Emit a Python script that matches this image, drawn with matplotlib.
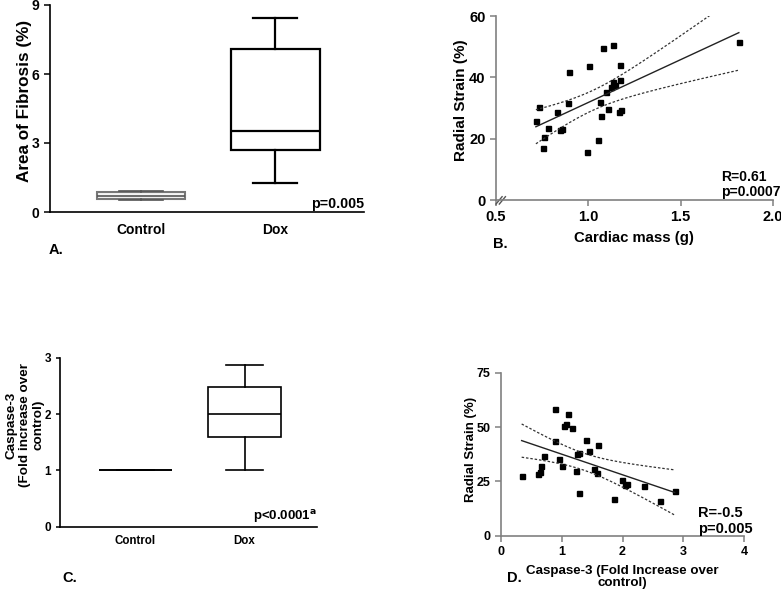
import numpy as np
import matplotlib
matplotlib.use('Agg')
import matplotlib.pyplot as plt

plt.rcParams['font.family'] = ['Liberation Sans', 'DejaVu Sans']
plt.rcParams['font.weight'] = 'bold'
plt.rcParams['axes.labelweight'] = 'bold'

# ---- data ----
groups = ['Control', 'Dox']
# box summaries: whislo, q1, median, q3, whishi
fibrosis_control = [0.52, 0.58, 0.68, 0.86, 0.90]
fibrosis_dox = [1.26, 2.70, 3.51, 7.09, 8.45]
casp_control = [1.0, 1.0, 1.0, 1.0, 1.0]
casp_dox = [1.01, 1.60, 2.00, 2.48, 2.87]

mass_g = [0.716, 0.734, 0.752, 0.760, 0.780, 0.832, 0.844, 0.857, 0.888, 0.895,
          0.992, 1.006, 1.051, 1.064, 1.071, 1.077, 1.096, 1.105, 1.122, 1.131,
          1.132, 1.143, 1.170, 1.170, 1.167, 1.177, 1.815]
strain_b = [25.8, 30.4, 17.0, 20.6, 23.6, 28.7, 22.7, 23.1, 31.7, 41.7,
            15.6, 43.6, 19.6, 31.8, 27.5, 49.7, 35.2, 29.6, 36.9, 50.7,
            38.4, 37.6, 44.0, 39.1, 28.6, 29.4, 51.6]

casp3 = [0.34, 0.889, 0.889, 0.708, 0.664, 0.636, 0.604, 0.955, 1.004, 1.037,
         1.07, 1.103, 1.174, 1.235, 1.251, 1.289, 1.289, 1.394, 1.449, 1.536,
         1.58, 1.602, 1.855, 1.992, 2.036, 2.069, 2.348, 2.612, 2.859]
strain_d = [27.5, 58.3, 43.6, 36.8, 31.9, 29.3, 28.5, 35.1, 31.9, 50.6,
            51.5, 55.8, 49.5, 29.6, 37.6, 38.2, 19.6, 44.0, 39.1, 30.5,
            28.7, 41.7, 17.0, 25.8, 23.3, 23.8, 22.9, 15.8, 20.6]

W, H = 781, 591
fig = plt.figure(figsize=(W / 100, H / 100), dpi=100)


def px_axes(l, r, t, b):
    return fig.add_axes([l / W, 1 - b / H, (r - l) / W, (b - t) / H])


def stats(v, label):
    return dict(whislo=v[0], q1=v[1], med=v[2], q3=v[3], whishi=v[4], label=label, fliers=[])


def style(ax, color):
    ax.spines['top'].set_visible(False)
    ax.spines['right'].set_visible(False)
    for s in ('left', 'bottom'):
        ax.spines[s].set_color(color)
        ax.spines[s].set_linewidth(1.2)
    ax.tick_params(direction='out', length=4, width=1.1, color=color)


def fit_band(ax, x, y, tval):
    x = np.asarray(x); y = np.asarray(y)
    n = len(x)
    b, a = np.polyfit(x, y, 1)
    xs = np.linspace(x.min(), x.max(), 200)
    res = y - (a + b * x)
    s = np.sqrt((res ** 2).sum() / (n - 2))
    se = s * np.sqrt(1 / n + (xs - x.mean()) ** 2 / ((x - x.mean()) ** 2).sum())
    fit = a + b * xs
    ax.plot(xs, fit, color='#222222', lw=1.0)
    ax.plot(xs, fit + tval * se, color='#333333', lw=0.9, ls=(0, (2, 1.5)))
    ax.plot(xs, fit - tval * se, color='#333333', lw=0.9, ls=(0, (2, 1.5)))


# ---- A: area of fibrosis ----
axA = px_axes(50, 364, 5, 212)
axA.bxp([stats(fibrosis_control, 'Control')], positions=[1], widths=0.664, capwidths=0.33,
        patch_artist=True, showfliers=False,
        boxprops=dict(facecolor='#f4f4f4', edgecolor='#777777', lw=1.5),
        medianprops=dict(color='#555555', lw=1.2),
        whiskerprops=dict(color='#555555', lw=1.2), capprops=dict(color='#555555', lw=1.2))
axA.bxp([stats(fibrosis_dox, 'Dox')], positions=[2], widths=0.664, capwidths=0.33,
        patch_artist=True, showfliers=False,
        boxprops=dict(facecolor='white', edgecolor='black', lw=1.6),
        medianprops=dict(color='black', lw=1.6),
        whiskerprops=dict(color='black', lw=1.6), capprops=dict(color='black', lw=1.6))
axA.set_xlim(0.321, 2.664)
axA.set_ylim(0, 9)
axA.set_yticks([0, 3, 6, 9])
style(axA, 'black')
axA.tick_params(axis='x', length=0, pad=8, labelsize=10)
axA.tick_params(axis='y', labelsize=10)
axA.set_xticks([1, 2])
axA.set_xticklabels(groups)
axA.set_ylabel('Area of Fibrosis (%)', fontsize=12.3)
axA.yaxis.set_label_coords(-0.058, 0.536)
axA.text(1.0, 0.005, 'p=0.005', transform=axA.transAxes, ha='right', va='bottom', fontsize=10.3)

# ---- B: radial strain vs cardiac mass ----
axB = px_axes(496, 773, 16, 200)
axB.plot(mass_g, strain_b, 's', color='black', ms=3.6)
fit_band(axB, mass_g, strain_b, 2.060)
axB.set_xlim(0.5, 2.0)
axB.set_ylim(0, 60)
axB.set_xticks([0.5, 1.0, 1.5, 2.0])
axB.set_xticklabels(['0.5', '1.0', '1.5', '2.0'])
axB.set_yticks([0, 20, 40, 60])
style(axB, '#808080')
axB.tick_params(labelsize=10.5)
axB.set_ylabel('Radial Strain (%)', fontsize=11)
axB.yaxis.set_label_coords(-0.101, 0.54)
axB.set_xlabel('Cardiac mass (g)', fontsize=10.7)
axB.xaxis.set_label_coords(0.497, -0.168)
for dx in (0.0, 0.012):
    axB.plot([dx, dx + 0.022], [-0.022, 0.018], transform=axB.transAxes, color='#555555',
             lw=1.0, clip_on=False)
axB.text(0.812, 0.127, 'R=0.61', transform=axB.transAxes, ha='left', va='center', fontsize=10)
axB.text(0.812, 0.043, 'p=0.0007', transform=axB.transAxes, ha='left', va='center', fontsize=10)

# ---- C: caspase-3 ----
axC = px_axes(60, 317, 357.7, 526.7)
axC.bxp([stats(casp_control, 'Control'), stats(casp_dox, 'Dox')], positions=[1, 2],
        widths=0.67, capwidths=0.335, patch_artist=True, showfliers=False,
        boxprops=dict(facecolor='white', edgecolor='black', lw=1.2),
        medianprops=dict(color='black', lw=1.2),
        whiskerprops=dict(color='black', lw=1.2), capprops=dict(color='black', lw=1.2))
axC.set_xlim(0.307, 2.665)
axC.set_ylim(0, 3)
axC.set_yticks([0, 1, 2, 3])
style(axC, 'black')
axC.tick_params(axis='x', length=0, pad=6, labelsize=8.3)
axC.tick_params(axis='y', labelsize=8.5, length=3)
axC.set_xticks([1, 2])
axC.set_xticklabels(groups)
axC.set_ylabel('Caspase-3\n(Fold increase over\ncontrol)', fontsize=9.7, linespacing=1.15)
axC.yaxis.set_label_coords(-0.062, 0.60)
axC.text(1.0, 0.01, r'p<0.0001$^{\mathbf{a}}$', transform=axC.transAxes, ha='right',
         va='bottom', fontsize=9.5)

# ---- D: radial strain vs caspase-3 ----
axD = px_axes(501, 744, 372.7, 535.7)
axD.plot(casp3, strain_d, 's', color='black', ms=3.6)
fit_band(axD, casp3, strain_d, 2.052)
axD.set_xlim(0, 4)
axD.set_ylim(0, 75)
axD.set_xticks([0, 1, 2, 3, 4])
axD.set_yticks([0, 25, 50, 75])
style(axD, '#808080')
axD.tick_params(labelsize=9)
axD.set_ylabel('Radial Strain (%)', fontsize=9.5)
axD.yaxis.set_label_coords(-0.1, 0.53)
axD.set_xlabel('Caspase-3 (Fold Increase over\ncontrol)', fontsize=9.6, linespacing=1.05)
axD.xaxis.set_label_coords(0.5, -0.253)
axD.xaxis.label.set_va('center')
axD.text(0.811, 0.139, 'R=-0.5', transform=axD.transAxes, ha='left', va='center', fontsize=10.5)
axD.text(0.811, 0.039, 'p=0.005', transform=axD.transAxes, ha='left', va='center', fontsize=10.5)

# ---- panel letters ----
for lab, x, y in [('A.', 56, 250), ('B.', 500, 244), ('C.', 70, 578), ('D.', 514, 578)]:
    fig.text(x / W, 1 - y / H, lab, ha='center', va='center', fontsize=10.5)

fig.savefig('out.png', dpi=100)
